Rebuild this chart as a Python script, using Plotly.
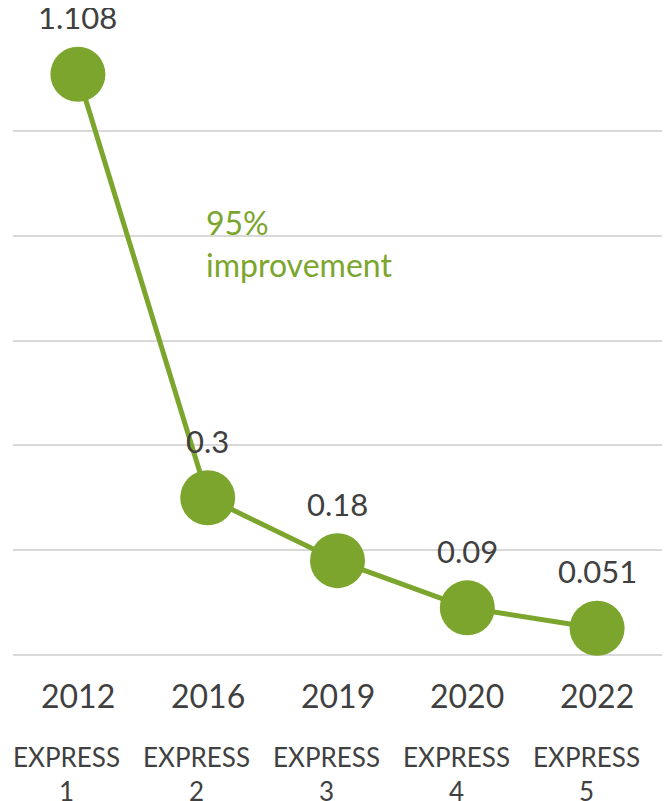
import plotly.graph_objects as go

years = ["2012", "2016", "2019", "2020", "2022"]
models = ["EXPRESS<br>1", "EXPRESS<br>2", "EXPRESS<br>3", "EXPRESS<br>4", "EXPRESS<br>5"]
values = [1.108, 0.3, 0.18, 0.09, 0.051]
value_labels = ["1.108", "0.3", "0.18", "0.09", "0.051"]
note_text = "95%<br>improvement"

GREEN = "#7CA52E"
GRAY = "#404040"
FONT = "Lato"

xs = list(range(len(years)))

fig = go.Figure()
fig.add_trace(go.Scatter(
    x=xs, y=values, mode="lines+markers",
    line=dict(color=GREEN, width=5),
    marker=dict(color=GREEN, size=55),
    hoverinfo="skip", showlegend=False, cliponaxis=False,
))

for xi, v, lab in zip(xs, values, value_labels):
    fig.add_annotation(x=xi, y=v, text=lab, showarrow=False, yshift=57,
                       font=dict(family=FONT, size=31, color=GRAY))

for xi, yr, md in zip(xs, years, models):
    fig.add_annotation(x=xi, y=0, yref="y", text=yr, showarrow=False, yshift=-40,
                       font=dict(family=FONT, size=32, color=GRAY))
    fig.add_annotation(x=xi, y=0, yref="y", text=md, showarrow=False, yshift=-119,
                       xshift=-11,
                       font=dict(family=FONT, size=26, color=GRAY))

fig.add_annotation(x=0.294, y=0.655, xref="paper", yref="paper", text=note_text,
                   showarrow=False, xanchor="left", yanchor="middle", align="left",
                   font=dict(family=FONT, size=32, color=GREEN))

fig.update_layout(
    width=664, height=793,
    margin=dict(l=5, r=10, t=18, b=146),
    paper_bgcolor="white", plot_bgcolor="white",
    xaxis=dict(range=[-0.5, 4.5], showgrid=False, zeroline=False,
               showticklabels=False, fixedrange=True),
    yaxis=dict(range=[0, 1.2], dtick=0.2, showgrid=True, gridcolor="#D9D9D9",
               gridwidth=2, zeroline=True, zerolinecolor="#D9D9D9", zerolinewidth=2,
               showticklabels=False, fixedrange=True),
    font=dict(family=FONT, color=GRAY),
)

fig.write_html("out.html")
